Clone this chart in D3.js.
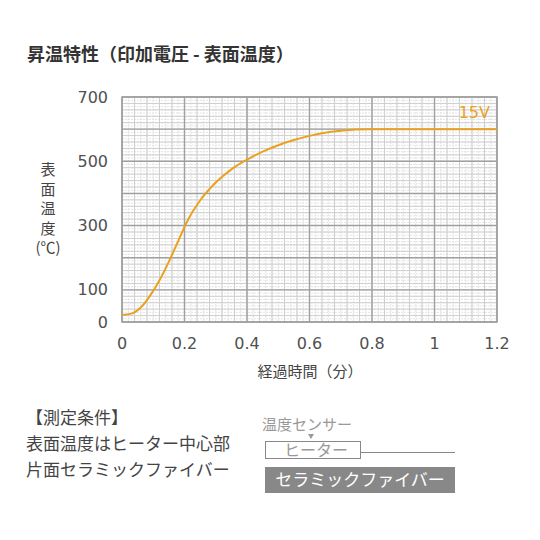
<!DOCTYPE html>
<html>
<head>
<meta charset="utf-8">
<script src="https://cdn.jsdelivr.net/npm/d3@7"></script>
<style>
  body { margin: 0; background: #fff; }
  text { font-family: "Noto Sans CJK JP", "Noto Sans", sans-serif; }
</style>
</head>
<body>
<div id="chart"></div>
<script>
// data
var times = [0, 0.03, 0.06, 0.09, 0.12, 0.15, 0.18, 0.21, 0.25, 0.3, 0.35, 0.4, 0.45, 0.5, 0.55, 0.6, 0.65, 0.7, 0.75, 0.8, 1.0, 1.2];
var temps = [22, 26, 45, 82, 130, 188, 252, 316, 378, 434, 475, 505, 530, 550, 566, 579, 589, 595, 599, 600, 600, 600];
var seriesName = "15V";
var xTicks = [0, 0.2, 0.4, 0.6, 0.8, 1, 1.2];
var yTicks = [0, 100, 300, 500, 700];
var yTitle = ["表", "面", "温", "度", "(℃)"];
var xTitle = "経過時間（分）";
var title = "昇温特性（印加電圧 - 表面温度）";
var notes = ["【測定条件】", "表面温度はヒーター中心部", "片面セラミックファイバー"];

var width = 540;
var height = 540;
var pLeft = 122, pRight = 497, pTop = 97, pBottom = 322;

var svg = d3.select("#chart")
    .append("svg")
    .attr("width", width)
    .attr("height", height);

var x = d3.scaleLinear().domain([0, 1.2]).range([pLeft, pRight]);
var y = d3.scaleLinear().domain([0, 700]).range([pBottom, pTop]);

// title
svg.append("text")
    .attr("x", 27)
    .attr("y", 61)
    .style("font-size", "18px")
    .style("font-weight", "bold")
    .style("fill", "#333")
    .text(title);

// grid: dotted fine lines, light lines, then major lines
var grid = svg.append("g");
function vlines(step, color, w, dash) {
    d3.range(0, 1.2 + 1e-9, step).forEach(function(v) {
        grid.append("line")
            .attr("x1", x(v)).attr("x2", x(v))
            .attr("y1", pTop).attr("y2", pBottom)
            .attr("stroke", color).attr("stroke-width", w)
            .attr("stroke-dasharray", dash);
    });
}
function hlines(step, color, w, dash) {
    d3.range(0, 700 + 1e-9, step).forEach(function(v) {
        grid.append("line")
            .attr("x1", pLeft).attr("x2", pRight)
            .attr("y1", y(v)).attr("y2", y(v))
            .attr("stroke", color).attr("stroke-width", w)
            .attr("stroke-dasharray", dash);
    });
}
vlines(0.02, "#e4e4e4", 1, "2,1");
hlines(10, "#e4e4e4", 1, "2,1");
vlines(0.04, "#cfcfcf", 1, null);
hlines(20, "#cfcfcf", 1, null);
vlines(0.2, "#a0a0a0", 1.4, null);
hlines(100, "#a0a0a0", 1.4, null);

grid.append("rect")
    .attr("x", pLeft).attr("y", pTop)
    .attr("width", pRight - pLeft).attr("height", pBottom - pTop)
    .attr("fill", "none")
    .attr("stroke", "#a0a0a0")
    .attr("stroke-width", 1.4);

// axes labels
svg.append("g").selectAll("text")
    .data(yTicks)
    .enter()
    .append("text")
    .attr("x", 108)
    .attr("y", function(d) { return y(d); })
    .attr("dy", "0.35em")
    .attr("text-anchor", "end")
    .style("font-family", "DejaVu Sans")
    .style("font-size", "16px")
    .style("fill", "#505050")
    .text(function(d) { return d; });

svg.append("g").selectAll("text")
    .data(xTicks)
    .enter()
    .append("text")
    .attr("x", function(d) { return x(d); })
    .attr("y", 349)
    .attr("text-anchor", "middle")
    .style("font-family", "DejaVu Sans")
    .style("font-size", "16px")
    .style("fill", "#505050")
    .text(function(d) { return d; });

svg.append("text")
    .attr("x", 310)
    .attr("y", 377)
    .attr("text-anchor", "middle")
    .style("font-size", "15px")
    .style("fill", "#444")
    .text(xTitle);

svg.append("g").selectAll("text")
    .data(yTitle)
    .enter()
    .append("text")
    .attr("x", 48)
    .attr("y", function(d, i) { return 175 + i * 19.5; })
    .attr("text-anchor", "middle")
    .style("font-size", "15px")
    .style("fill", "#444")
    .text(function(d) { return d; });

// the curve
var pts = times.map(function(t, i) { return [t, temps[i]]; });
var line = d3.line()
    .x(function(d) { return x(d[0]); })
    .y(function(d) { return y(d[1]); })
    .curve(d3.curveMonotoneX);

svg.append("path")
    .datum(pts)
    .attr("d", line)
    .attr("fill", "none")
    .attr("stroke", "#e9a21f")
    .attr("stroke-width", 2);

svg.append("text")
    .attr("x", 490)
    .attr("y", 118)
    .attr("text-anchor", "end")
    .style("font-family", "DejaVu Sans")
    .style("font-size", "16px")
    .style("fill", "#e9a21f")
    .text(seriesName);

// measurement notes
svg.append("g").selectAll("text")
    .data(notes)
    .enter()
    .append("text")
    .attr("x", 26)
    .attr("y", function(d, i) { return 424 + i * 26; })
    .style("font-size", "17px")
    .style("fill", "#444")
    .text(function(d) { return d; });

// sensor diagram
var dg = svg.append("g");
dg.append("text")
    .attr("x", 262).attr("y", 430)
    .style("font-size", "15px")
    .style("fill", "#999")
    .text("温度センサー");
dg.append("path")
    .attr("d", "M308,434 L314,434 L311,439 Z")
    .attr("fill", "#999");
dg.append("rect")
    .attr("x", 265.5).attr("y", 441.5)
    .attr("width", 95).attr("height", 17)
    .attr("fill", "#fff")
    .attr("stroke", "#888");
dg.append("text")
    .attr("x", 316).attr("y", 456)
    .attr("text-anchor", "middle")
    .style("font-size", "16px")
    .style("fill", "#999")
    .text("ヒーター");
dg.append("line")
    .attr("x1", 361).attr("x2", 455)
    .attr("y1", 452.5).attr("y2", 452.5)
    .attr("stroke", "#888");
dg.append("rect")
    .attr("x", 265).attr("y", 467)
    .attr("width", 190).attr("height", 26)
    .attr("fill", "#888");
dg.append("text")
    .attr("x", 360).attr("y", 486)
    .attr("text-anchor", "middle")
    .style("font-size", "17px")
    .style("fill", "#fff")
    .text("セラミックファイバー");
</script>
</body>
</html>
